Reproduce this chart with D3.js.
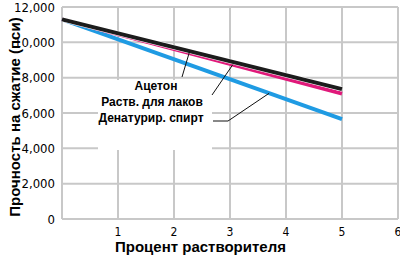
<!DOCTYPE html>
<html>
<head>
<meta charset="utf-8">
<script src="https://cdn.jsdelivr.net/npm/d3@7"></script>
<style>
  body { margin: 0; background: #fff; }
  svg { display: block; }
</style>
</head>
<body>
<div id="wrapper"></div>
<script>
// данные
const xValues = [0, 5];
const acetone = [11300, 7350];
const lacquer = [11300, 7100];
const spirit = [11300, 5650];
const seriesNames = ["Ацетон", "Раств.  для лаков", "Денатурир. спирт"];
const yTicks = [0, 2000, 4000, 6000, 8000, 10000, 12000];
const yTickLabels = ["0", "2,000", "4,000", "6,000", "8,000", "10,000", "12,000"];
const xTicks = [1, 2, 3, 4, 5, 6];

function buildPlot() {
    const dimension = {
        width: 400,
        height: 263,
        margin: { top: 7, left: 62, bottom: 44, right: 2 }
    };
    dimension.boundedWidth = dimension.width - dimension.margin.left - dimension.margin.right;
    dimension.boundedHeight = dimension.height - dimension.margin.top - dimension.margin.bottom;

    const svg = d3.select("#wrapper").append("svg")
        .attr("width", dimension.width)
        .attr("height", dimension.height);

    const bounds = svg.append("g")
        .attr("transform", `translate(${dimension.margin.left},${dimension.margin.top})`);

    const xScaler = d3.scaleLinear()
        .domain([0, 6])
        .range([0, dimension.boundedWidth]);
    const yScaler = d3.scaleLinear()
        .domain([0, 12000])
        .range([dimension.boundedHeight, 0]);

    const gridColor = "#c8c8c8";

    // сетка
    bounds.append("g").selectAll("line")
        .data(yTicks)
        .join("line")
        .attr("x1", 0)
        .attr("x2", xScaler(6))
        .attr("y1", d => yScaler(d))
        .attr("y2", d => yScaler(d))
        .attr("stroke", gridColor)
        .attr("stroke-width", 2);

    bounds.append("g").selectAll("line")
        .data([0].concat(xTicks))
        .join("line")
        .attr("x1", d => xScaler(d))
        .attr("x2", d => xScaler(d))
        .attr("y1", yScaler(0))
        .attr("y2", yScaler(12000))
        .attr("stroke", gridColor)
        .attr("stroke-width", 2);

    // белая подложка под подписями
    bounds.append("rect")
        .attr("x", 36)
        .attr("y", 73)
        .attr("width", 114)
        .attr("height", 70)
        .attr("fill", "#fff");

    // линии серий
    const lineGen = (vals) => d3.line()
        .x((d, i) => xScaler(xValues[i]))
        .y(d => yScaler(d))(vals);

    const series = [
        { vals: spirit, color: "#1f9be3", casing: false },
        { vals: lacquer, color: "#e0197a", casing: false },
        { vals: acetone, color: "#1c1c1c", casing: true }
    ];
    series.forEach(s => {
        if (s.casing) {
            bounds.append("path")
                .attr("d", lineGen(s.vals))
                .attr("fill", "none")
                .attr("stroke", "#fff")
                .attr("stroke-width", 5);
        }
        bounds.append("path")
            .attr("d", lineGen(s.vals))
            .attr("fill", "none")
            .attr("stroke", s.color)
            .attr("stroke-width", 4);
    });

    // подписи серий
    const labelFont = "'Liberation Sans', Arial, sans-serif";
    const labelPos = [[94, 83], [90, 99], [89, 115]];
    bounds.append("g").selectAll("text")
        .data(seriesNames)
        .join("text")
        .attr("x", (d, i) => labelPos[i][0])
        .attr("y", (d, i) => labelPos[i][1])
        .attr("text-anchor", "middle")
        .attr("font-family", labelFont)
        .attr("font-weight", "bold")
        .attr("font-size", "12px")
        .text(d => d);

    // выноски
    const at = (s, x) => [xScaler(x), yScaler(s[0] + (s[1] - s[0]) * x / 5)];
    const leaders = [
        [[120, 70], at(acetone, 2.28)],
        [[150, 88], at(lacquer, 3.05)],
        [[151, 114], [166, 114], at(spirit, 3.7)]
    ];
    leaders.forEach(pts => {
        bounds.append("path")
            .attr("d", d3.line()(pts))
            .attr("fill", "none")
            .attr("stroke", "#111")
            .attr("stroke-width", 1);
    });

    // подписи осей
    const tickFont = "'Liberation Sans Narrow', 'DejaVu Sans Condensed', Arial, sans-serif";
    bounds.append("g").selectAll("text")
        .data(yTicks)
        .join("text")
        .attr("x", -7)
        .attr("y", d => yScaler(d))
        .attr("dy", "0.35em")
        .attr("text-anchor", "end")
        .attr("font-family", tickFont)
        .attr("font-size", "13px")
        .text((d, i) => yTickLabels[i]);

    bounds.append("g").selectAll("text")
        .data(xTicks)
        .join("text")
        .attr("x", d => xScaler(d))
        .attr("y", dimension.boundedHeight + 17)
        .attr("text-anchor", "middle")
        .attr("font-family", tickFont)
        .attr("font-size", "12px")
        .text(d => d);

    svg.append("text")
        .attr("x", 115)
        .attr("y", 252)
        .attr("font-family", labelFont)
        .attr("font-weight", "bold")
        .attr("font-size", "15px")
        .text("Процент растворителя");

    svg.append("text")
        .attr("transform", "translate(20,117) rotate(-90)")
        .attr("text-anchor", "middle")
        .attr("font-family", labelFont)
        .attr("font-weight", "bold")
        .attr("font-size", "15px")
        .text("Прочность на сжатие (пси)");
}

buildPlot();
</script>
</body>
</html>
